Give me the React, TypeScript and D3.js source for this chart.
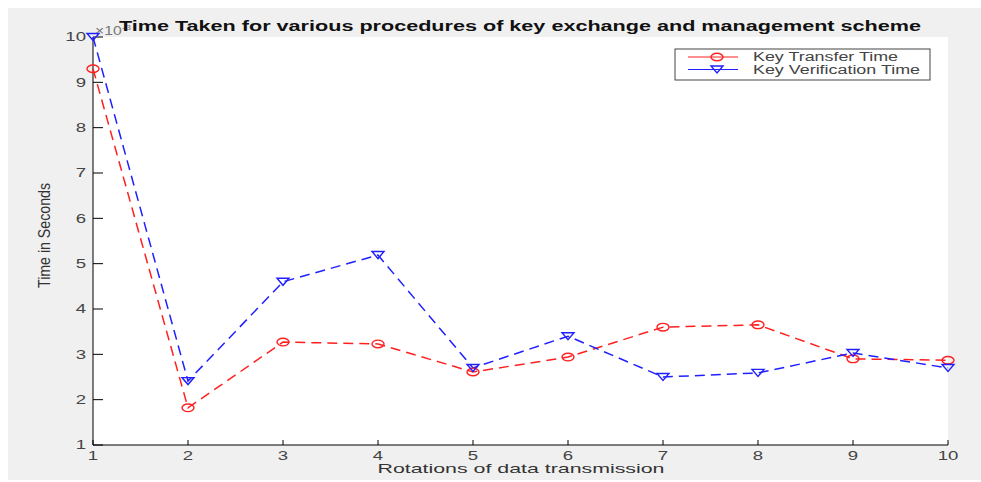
import { useMemo } from 'react'
import * as d3 from 'd3'

const rotations = [1, 2, 3, 4, 5, 6, 7, 8, 9, 10]
const transferTime = [9.3, 1.82, 3.27, 3.23, 2.61, 2.94, 3.6, 3.65, 2.9, 2.87]
const verificationTime = [10, 2.41, 4.6, 5.19, 2.7, 3.4, 2.5, 2.59, 3.03, 2.7]
const yTicks = [1, 2, 3, 4, 5, 6, 7, 8, 9, 10]
const seriesNames = ['Key Transfer Time', 'Key Verification Time']

const W = 981
const H = 482
const LEFT = 93
const RIGHT = 948
const TOP = 37
const BOTTOM = 445
const FONT = 'Liberation Sans, Arial, sans-serif'
const STRETCH = 1.55

// the reference is a horizontally stretched figure, so texts are widened
const Wide = ({ x, y, anchor = 'start', size, fill, weight, children, len }: any) => (
  <text
    x={x}
    y={y}
    textAnchor={anchor}
    fontSize={size}
    fill={fill}
    fontWeight={weight}
    textLength={len}
    lengthAdjust={len ? 'spacingAndGlyphs' : undefined}
    transform={len ? undefined : `translate(${x},${y}) scale(${STRETCH},1) translate(${-x},${-y})`}
  >
    {children}
  </text>
)

const Triangle = ({ x, y, color }: { x: number; y: number; color: string }) => (
  <path
    d={`M${x - 6},${y - 3.5}L${x + 6},${y - 3.5}L${x},${y + 3.5}Z`}
    fill="none"
    stroke={color}
    strokeWidth={1.4}
  />
)

const Circle = ({ x, y, color }: { x: number; y: number; color: string }) => (
  <ellipse cx={x} cy={y} rx={6} ry={3.8} fill="none" stroke={color} strokeWidth={1.4} />
)

export default function App() {
  const x = useMemo(() => d3.scaleLinear().domain([1, 10]).range([LEFT, RIGHT]), [])
  const y = useMemo(() => d3.scaleLinear().domain([1, 10]).range([BOTTOM, TOP]), [])

  const line = d3
    .line<number>()
    .x((_, i) => x(rotations[i]))
    .y((d) => y(d))

  return (
    <div style={{ position: 'absolute', left: 0, top: 0 }}>
      <svg width={W} height={H} style={{ display: 'block' }} fontFamily={FONT}>
        <rect x={0} y={0} width={W} height={H} fill="#fff" />
        <rect x={8} y={8} width={W - 8} height={472} fill="#f0f0f0" />
        <rect x={LEFT} y={TOP} width={RIGHT - LEFT} height={BOTTOM - TOP} fill="#fff" />

        {/* exponent label, partly hidden under the title */}
        <text x={95} y={35} fontSize={12} fill="#777" textLength={36} lengthAdjust="spacingAndGlyphs">
          ×10
          <tspan fontSize={8} dy={-5}>-3</tspan>
        </text>

        <Wide x={520} y={31} anchor="middle" size={14} weight="bold" fill="#111" len={802}>
          Time Taken for various procedures of key exchange and management scheme
        </Wide>

        {/* axes */}
        <line x1={LEFT} y1={TOP} x2={LEFT} y2={BOTTOM} stroke="#000" strokeWidth={1} />
        <line x1={LEFT} y1={BOTTOM} x2={RIGHT} y2={BOTTOM} stroke="#000" strokeWidth={1} />
        {yTicks.map((t) => (
          <g key={'y' + t}>
            <line x1={LEFT} x2={LEFT + 10} y1={y(t)} y2={y(t)} stroke="#000" />
            <Wide x={LEFT - 7} y={y(t) + 4.5} anchor="end" size={12} fill="#444">
              {t}
            </Wide>
          </g>
        ))}
        {rotations.map((t) => (
          <g key={'x' + t}>
            <line x1={x(t)} x2={x(t)} y1={BOTTOM} y2={BOTTOM - 5} stroke="#000" />
            <Wide x={x(t)} y={BOTTOM + 15} anchor="middle" size={12} fill="#444">
              {t}
            </Wide>
          </g>
        ))}
        <Wide x={521} y={473} anchor="middle" size={13} fill="#333" len={287}>
          Rotations of data transmission
        </Wide>
        <text
          transform={`translate(50, 235.5) rotate(-90)`}
          textAnchor="middle"
          fontSize={16}
          fill="#333"
          textLength={105}
          lengthAdjust="spacingAndGlyphs"
        >
          Time in Seconds
        </text>

        {/* series */}
        <path
          d={line(transferTime) ?? ''}
          fill="none"
          stroke="#ff2020"
          strokeWidth={1.5}
          strokeDasharray="10,6"
        />
        <path
          d={line(verificationTime) ?? ''}
          fill="none"
          stroke="#2020ff"
          strokeWidth={1.5}
          strokeDasharray="10,6"
        />
        {transferTime.map((d, i) => (
          <Circle key={'c' + i} x={x(rotations[i])} y={y(d)} color="#ff2020" />
        ))}
        {verificationTime.map((d, i) => (
          <Triangle key={'t' + i} x={x(rotations[i])} y={y(d)} color="#2020ff" />
        ))}

        {/* legend */}
        <rect x={675} y={49} width={255} height={31} fill="#fff" stroke="#444" strokeWidth={1} />
        {seriesNames.map((name, i) => {
          const cy = 57 + i * 12.5
          const color = i === 0 ? '#ff2020' : '#2020ff'
          return (
            <g key={name}>
              <line x1={688} x2={738} y1={cy} y2={cy} stroke={color} strokeWidth={1.2} />
              {i === 0 ? (
                <Circle x={717} y={cy} color={color} />
              ) : (
                <Triangle x={717} y={cy} color={color} />
              )}
              <Wide x={753} y={cy + 4} size={12} fill="#444" len={i === 0 ? 145 : 167}>
                {name}
              </Wide>
            </g>
          )
        })}
      </svg>
    </div>
  )
}
